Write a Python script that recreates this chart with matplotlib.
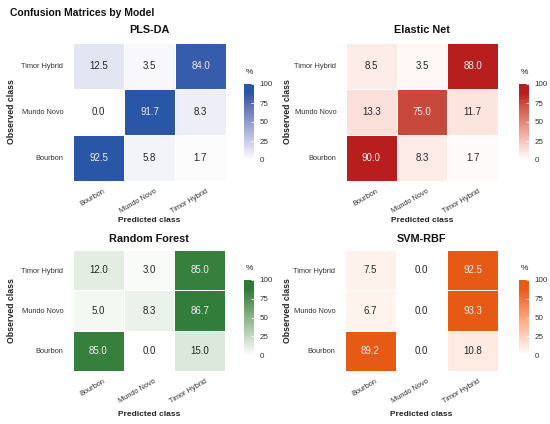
import numpy as np
import matplotlib
matplotlib.use('Agg')
import matplotlib.pyplot as plt
import matplotlib.transforms as mtransforms
from matplotlib.colors import ListedColormap, to_rgb

plt.rcParams['font.family'] = ['Liberation Sans', 'DejaVu Sans']

# data: rows = observed class (Bourbon, Mundo Novo, Timor Hybrid), cols = predicted class
classes = ['Bourbon', 'Mundo Novo', 'Timor Hybrid']
models = ['PLS-DA', 'Elastic Net', 'Random Forest', 'SVM-RBF']

pls_da = [[92.5, 5.8, 1.7],
          [0.0, 91.7, 8.3],
          [12.5, 3.5, 84.0]]
elastic_net = [[90.0, 8.3, 1.7],
               [13.3, 75.0, 11.7],
               [8.5, 3.5, 88.0]]
random_forest = [[85.0, 0.0, 15.0],
                 [5.0, 8.3, 86.7],
                 [12.0, 3.0, 85.0]]
svm_rbf = [[89.2, 0.0, 10.8],
           [6.7, 0.0, 93.3],
           [7.5, 0.0, 92.5]]

matrices = [pls_da, elastic_net, random_forest, svm_rbf]
colors = ['#2a56a8', '#b81e1e', '#2e7b36', '#e65a16']

W, H = 550, 424


# gradient white -> colour, interpolated in CIE Lab
def srgb_to_lab(rgb):
    c = np.array(rgb, dtype=float)
    c = np.where(c <= 0.04045, c / 12.92, ((c + 0.055) / 1.055) ** 2.4)
    m = np.array([[0.4124, 0.3576, 0.1805],
                  [0.2126, 0.7152, 0.0722],
                  [0.0193, 0.1192, 0.9505]])
    xyz = m @ c / np.array([0.95047, 1.0, 1.08883])
    f = np.where(xyz > 0.008856, np.cbrt(xyz), 7.787 * xyz + 16 / 116)
    return np.array([116 * f[1] - 16, 500 * (f[0] - f[1]), 200 * (f[1] - f[2])])


def lab_to_srgb(lab):
    L, a, b = lab
    fy_ = (L + 16) / 116
    f = np.array([fy_ + a / 500, fy_, fy_ - b / 200])
    xyz = np.where(f ** 3 > 0.008856, f ** 3, (f - 16 / 116) / 7.787)
    xyz = xyz * np.array([0.95047, 1.0, 1.08883])
    m = np.array([[3.2406, -1.5372, -0.4986],
                  [-0.9689, 1.8758, 0.0415],
                  [0.0557, -0.2040, 1.0570]])
    c = m @ xyz
    c = np.where(c <= 0.0031308, 12.92 * c, 1.055 * np.clip(c, 0, None) ** (1 / 2.4) - 0.055)
    return np.clip(c, 0, 1)


def lab_cmap(name, col):
    lo = srgb_to_lab((1, 1, 1))
    hi = srgb_to_lab(to_rgb(col))
    # colour reaches full strength a bit before the top of the scale
    ts = np.clip(np.linspace(0, 1, 256) / 0.88, 0, 1)
    cols = [lab_to_srgb(lo + (hi - lo) * t) for t in ts]
    return ListedColormap(cols, name=name)


def box(x0, y0, x1, y1):
    # pixel box (top-left origin) -> figure fraction
    return [x0 / W, 1 - y1 / H, (x1 - x0) / W, (y1 - y0) / H]


def fy(y):
    return 1 - y / H


fig = plt.figure(figsize=(5.5, 4.24), dpi=100)

heat_boxes = [(73, 43, 226, 181), (346, 43, 498, 181),
              (73, 250, 225, 371), (345, 250, 498, 371)]
cbar_boxes = [(244, 84, 254, 160), (519, 84, 529, 160),
              (244, 280, 254, 355), (519, 280, 529, 355)]
label_x = [12, 288, 12, 288]
title_y = [30, 30, 239, 239]
xlab_y = [221, 221, 414, 414]

fig.text(10 / W, fy(13), 'Confusion Matrices by Model', fontsize=7.5,
         fontweight='bold', va='center', ha='left', color='#111111')

shift = mtransforms.ScaledTranslation(5 / 100, 0, fig.dpi_scale_trans)

for i, (name, mat, col) in enumerate(zip(models, matrices, colors)):
    data = np.array(mat)
    cmap = lab_cmap(name, col)
    ax = fig.add_axes(box(*heat_boxes[i]))
    mesh = ax.pcolormesh(np.arange(4), np.arange(4), data, cmap=cmap,
                         vmin=0, vmax=100, edgecolors='white', linewidth=0.5)
    for r in range(3):
        for c in range(3):
            v = data[r, c]
            ax.text(c + 0.5, r + 0.5, f'{v:.1f}', ha='center', va='center',
                    fontsize=7, color='#eeeeee' if v > 50 else '#262626')
    ax.set_xlim(0, 3)
    ax.set_ylim(0, 3)
    ax.set_xticks(np.arange(3) + 0.5)
    ax.set_yticks(np.arange(3) + 0.5)
    ax.set_xticklabels(classes, rotation=30, ha='right', rotation_mode='anchor',
                       fontsize=5.3, color='#333333')
    ax.set_yticklabels(classes, fontsize=5.3, color='#333333')
    ax.tick_params(axis='x', length=0, pad=5)
    ax.tick_params(axis='y', length=0, pad=7)
    for lbl in ax.get_xticklabels():
        lbl.set_transform(lbl.get_transform() + shift)
    for s in ax.spines.values():
        s.set_visible(False)

    hx0, hy0, hx1, hy1 = heat_boxes[i]
    xc = (hx0 + hx1) / 2 / W
    fig.text(xc, fy(title_y[i]), name, fontsize=7.8, fontweight='bold',
             ha='center', va='center', color='#111111')
    fig.text(xc, fy(xlab_y[i]), 'Predicted class', fontsize=6, fontweight='bold',
             ha='center', va='center', color='#222222')
    fig.text(label_x[i] / W, fy((hy0 + hy1) / 2), 'Observed class',
             rotation=90, fontsize=6.3, fontweight='bold', ha='center',
             va='center', color='#222222')

    cax = fig.add_axes(box(*cbar_boxes[i]))
    cb = fig.colorbar(mesh, cax=cax, ticks=[0, 25, 50, 75, 100])
    cb.outline.set_visible(False)
    cax.tick_params(direction='in', color='white', length=2, width=0.6,
                    labelsize=5.8, labelcolor='#333333', pad=4)
    cx0, cy0, cx1, cy1 = cbar_boxes[i]
    fig.text((cx0 + cx1) / 2 / W, fy(cy0 - 12), '%', fontsize=6,
             ha='center', va='center', color='#222222')

fig.savefig('out.png', dpi=100, facecolor='white')
